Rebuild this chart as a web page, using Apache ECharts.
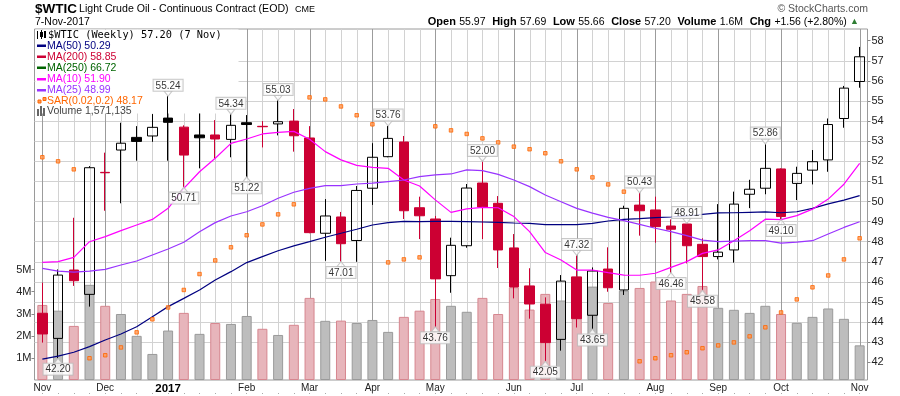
<!DOCTYPE html>
<html><head><meta charset="utf-8">
<script src="https://cdn.jsdelivr.net/npm/echarts@6/dist/echarts.min.js"></script>
<style>html,body{margin:0;padding:0;background:#fff}#c{width:900px;height:396px}</style>
</head><body><div id="c"></div>
<script>
// ---- data (weekly bars, dated Monday) ----
const dates = ['2016-11-07','2016-11-14','2016-11-21','2016-11-28','2016-12-05','2016-12-12','2016-12-19','2016-12-26',
'2017-01-02','2017-01-09','2017-01-16','2017-01-23','2017-01-30','2017-02-06','2017-02-13','2017-02-20','2017-02-27',
'2017-03-06','2017-03-13','2017-03-20','2017-03-27','2017-04-03','2017-04-10','2017-04-17','2017-04-24',
'2017-05-01','2017-05-08','2017-05-15','2017-05-22','2017-05-29','2017-06-05','2017-06-12','2017-06-19','2017-06-26',
'2017-07-03','2017-07-10','2017-07-17','2017-07-24','2017-07-31','2017-08-07','2017-08-14','2017-08-21','2017-08-28',
'2017-09-04','2017-09-11','2017-09-18','2017-09-25','2017-10-02','2017-10-09','2017-10-16','2017-10-23','2017-10-30','2017-11-06'];
const opens  = [44.44,43.19,46.59,45.38,51.45,52.56,53.19,53.26,54.15,53.70,53.31,53.31,53.09,53.92,53.74,53.86,54.00,53.16,48.42,49.23,48.06,50.66,52.23,52.96,49.69,49.13,46.31,47.80,50.92,49.91,47.69,45.80,44.89,43.14,46.25,44.34,46.64,45.60,49.82,49.58,48.78,48.88,47.87,47.26,47.59,50.36,50.66,51.62,50.90,51.56,52.07,54.13,55.97];
const highs  = [45.96,46.62,49.19,51.76,52.43,53.92,53.75,54.35,55.24,53.79,54.38,54.05,54.34,54.30,54.00,55.03,54.60,53.75,50.12,49.48,50.77,52.90,53.76,53.26,50.24,49.28,48.20,50.87,52.00,50.27,48.38,46.68,45.23,46.34,47.32,46.72,47.72,49.79,50.43,50.24,49.11,48.91,48.17,49.87,50.49,51.08,52.86,51.65,51.73,52.56,54.13,55.75,57.69];
const lows   = [42.98,42.20,45.80,44.77,49.54,49.91,52.03,52.97,52.03,50.71,51.65,52.14,52.20,51.22,52.69,53.29,52.48,48.42,47.05,47.01,47.00,49.83,52.20,49.13,48.13,43.76,45.46,47.70,48.13,46.69,45.18,44.17,42.05,42.58,43.73,43.65,45.51,45.35,48.30,47.95,46.46,46.92,45.58,47.12,46.96,49.67,50.36,49.10,50.07,50.85,51.48,53.67,55.66];
const closes = [43.41,46.34,46.06,51.68,51.43,52.90,52.99,53.69,53.94,52.31,53.17,53.11,53.79,53.83,53.72,53.97,53.27,48.45,49.28,47.90,50.55,52.20,53.14,49.54,49.29,46.15,47.82,50.67,49.73,47.59,45.75,44.90,42.98,46.04,44.17,46.54,45.71,49.66,49.54,48.75,48.62,47.80,47.26,47.48,49.87,50.61,51.65,49.25,51.40,51.98,53.83,55.64,57.20];
const prevClose0 = 44.66;
const volumesM = [3.40,3.14,2.45,4.31,3.36,2.99,2.00,1.18,2.24,3.04,2.09,2.58,2.54,2.90,2.32,2.04,2.50,3.72,2.68,2.69,2.58,2.72,2.18,2.86,3.14,3.67,3.36,3.09,3.72,2.99,4.20,3.19,3.90,3.60,3.60,4.23,3.49,4.05,4.17,4.46,3.60,3.90,4.26,3.27,3.18,3.04,3.36,2.99,2.59,2.86,3.24,2.77,1.57];
const ma50 = [42.16,42.31,42.50,42.78,43.11,43.41,43.77,44.27,44.77,45.18,45.60,46.09,46.51,46.96,47.26,47.55,47.79,48.00,48.22,48.42,48.62,48.83,48.95,49.01,49.00,49.01,49.01,49.00,48.98,48.96,48.93,48.91,48.85,48.85,48.85,48.91,49.03,49.11,49.15,49.20,49.23,49.28,49.36,49.43,49.44,49.46,49.48,49.44,49.49,49.66,49.88,50.07,50.29];
const ma10 = [46.97,47.01,47.22,48.00,48.25,48.55,48.83,49.11,49.66,50.65,51.48,52.15,52.89,53.11,53.36,53.44,53.49,53.10,52.48,52.07,51.80,51.70,51.65,51.07,50.77,50.08,49.46,49.63,49.71,49.69,49.25,48.50,47.46,47.09,46.59,46.59,46.46,46.34,46.33,46.43,46.72,47.01,47.42,47.59,48.05,48.55,49.12,49.10,49.30,49.62,50.12,50.86,51.90];
const ma25 = [46.67,46.54,46.49,46.54,46.62,46.84,47.04,47.34,47.64,47.97,48.50,48.95,49.28,49.49,49.79,50.16,50.46,50.65,50.79,50.79,50.87,50.91,50.99,51.07,51.24,51.32,51.37,51.57,51.54,51.35,51.07,50.74,50.32,49.99,49.66,49.42,49.21,49.05,48.86,48.67,48.50,48.30,48.08,48.00,48.03,48.05,48.05,47.93,47.98,48.05,48.38,48.71,48.99];
const sar  = [52.20,52.00,51.60,42.20,42.35,42.74,43.49,44.14,44.73,45.60,46.39,47.07,47.72,48.32,48.86,49.36,49.86,55.18,55.08,54.73,54.29,53.84,46.97,47.12,47.22,53.74,53.54,53.36,53.14,52.94,52.73,52.60,52.40,52.00,51.60,51.20,50.85,50.49,42.05,42.20,42.35,42.50,42.70,42.84,42.99,43.29,43.74,44.48,45.13,45.73,46.32,47.12,48.17];
const monthTickIdx = [0,4,8,13,17,21,25,30,34,39,43,47,52];
const monthTickLabels = ['Nov','Dec','2017','Feb','Mar','Apr','May','Jun','Jul','Aug','Sep','Oct','Nov'];
const priceTicks = [42,43,44,45,46,47,48,49,50,51,52,53,54,55,56,57,58];
const volTicks = [1,2,3,4,5];
const highLabelIdx = [8,12,15,22,28,34,38,41,46];
const lowLabelIdx = [1,9,13,19,25,32,35,40,42,47];
const lastVolume = 1571135;
const ma200Last = 58.85, ma250Last = 66.72;

// ---- styles ----
const RED = '#cc0033', BLK = '#000000';
const F = '"Liberation Sans", Arial, sans-serif';
const isRed = dates.map((d,i)=> closes[i] < (i===0 ? prevClose0 : closes[i-1]));
const candleData = dates.map((d,i)=>{
  const c = isRed[i] ? RED : BLK;
  const fill = closes[i] < opens[i] ? c : 'rgba(0,0,0,0)';
  return {value:[opens[i], closes[i], lows[i], highs[i]],
    itemStyle:{color:fill, color0:fill, borderColor:c, borderColor0:c, borderColorDoji:c}};
});
const volData = volumesM.map((v,i)=>({value:v, itemStyle: isRed[i]
  ? {color:'#e7b5bb', borderColor:'#d6868f', borderWidth:1}
  : {color:'#bdbdbd', borderColor:'#9a9a9a', borderWidth:1}}));

const last = dates.length-1;
const chg = closes[last]-closes[last-1];
const chgPct = chg/closes[last-1]*100;
const fmtVol = (lastVolume/1e6).toFixed(1)+'M';

const GL = 34.5, GW = 833;
const chart = echarts.init(document.getElementById('c'), null, {renderer:'canvas'});

const legendRows = [
  {y:46,  c:'#000080', t:'MA(50) '+ma50[last].toFixed(2)},
  {y:57,  c:'#cc0033', t:'MA(200) '+ma200Last.toFixed(2)},
  {y:68,  c:'#006400', t:'MA(250) '+ma250Last.toFixed(2)},
  {y:79.5,c:'#ff00ff', t:'MA(10) '+ma10[last].toFixed(2)},
  {y:90.5,c:'#9933ff', t:'MA(25) '+ma25[last].toFixed(2)}
];
const graphics = [
  {type:'rect', shape:{x:35.5, y:29.5, width:203, height:84}, style:{fill:'#fff'}, z:2, silent:true},
  {type:'text', x:35, y:9, style:{text:'$WTIC', font:'bold 13.5px '+F, fill:'#000', verticalAlign:'middle'}, z:10},
  {type:'text', x:79, y:9.5, style:{text:'Light Crude Oil - Continuous Contract (EOD)', font:'10.6px '+F, fill:'#000', verticalAlign:'middle'}, z:10},
  {type:'text', x:295, y:10, style:{text:'CME', font:'9px '+F, fill:'#000', verticalAlign:'middle'}, z:10},
  {type:'text', x:35, y:22, style:{text:'7-Nov-2017', font:'10.5px '+F, fill:'#000', verticalAlign:'middle'}, z:10},
  {type:'text', x:868, y:9, style:{text:'\u00A9 StockCharts.com', font:'10.5px '+F, fill:'#555', align:'right', verticalAlign:'middle'}, z:10},
  {type:'text', x:859, y:22, style:{
    text:'{b|Open} {n|'+opens[last].toFixed(2)+'}  {b|High} {n|'+highs[last].toFixed(2)+'}  {b|Low} {n|'+lows[last].toFixed(2)+
         '}  {b|Close} {n|'+closes[last].toFixed(2)+'}  {b|Volume} {n|'+fmtVol+'}  {b|Chg} {n|'+(chg>=0?'+':'')+chg.toFixed(2)+' ('+(chg>=0?'+':'')+chgPct.toFixed(2)+'%)} {g|\u25B2}',
    rich:{b:{font:'bold 11px '+F, fill:'#000'}, n:{font:'10.5px '+F, fill:'#000'}, g:{font:'9px '+F, fill:'#2e7d32'}},
    align:'right', verticalAlign:'middle'}, z:10},
  // legend rows
  {type:'rect', shape:{x:37, y:31, width:1, height:8}, style:{fill:'#000'}, z:10},
  {type:'rect', shape:{x:40, y:32, width:3, height:5}, style:{fill:'#000'}, z:10},
  {type:'rect', shape:{x:41, y:30, width:1, height:9}, style:{fill:'#000'}, z:10},
  {type:'rect', shape:{x:44, y:31, width:2, height:7}, style:{fill:'#000'}, z:10},
  {type:'text', x:48, y:35.5, style:{text:'$WTIC (Weekly) '+closes[last].toFixed(2)+' (7 Nov)', font:'10.3px "DejaVu Sans Mono", monospace', fill:'#000', verticalAlign:'middle'}, z:10},
  {type:'rect', shape:{x:38, y:100, width:3, height:3}, style:{fill:'#ff9955', stroke:'#ff6600', lineWidth:1}, z:10},
  {type:'rect', shape:{x:43, y:97.5, width:3, height:3}, style:{fill:'#ff9955', stroke:'#ff6600', lineWidth:1}, z:10},
  {type:'text', x:47, y:101, style:{text:'SAR(0.02,0.2) '+sar[last].toFixed(2), font:'10.5px '+F, fill:'#ff6600', verticalAlign:'middle'}, z:10},
  {type:'rect', shape:{x:37, y:109, width:2, height:7}, style:{fill:'#666'}, z:10},
  {type:'rect', shape:{x:40, y:106, width:2, height:10}, style:{fill:'#666'}, z:10},
  {type:'rect', shape:{x:43, y:108, width:2, height:8}, style:{fill:'#666'}, z:10},
  {type:'text', x:47, y:111.5, style:{text:'Volume '+lastVolume.toLocaleString('en-US'), font:'10.5px '+F, fill:'#444', verticalAlign:'middle'}, z:10}
];
legendRows.forEach(r=>{
  graphics.push({type:'rect', shape:{x:37, y:r.y-1.5, width:9, height:2.5}, style:{fill:r.c}, z:10});
  graphics.push({type:'text', x:47, y:r.y, style:{text:r.t, font:'10.5px '+F, fill:r.c, verticalAlign:'middle'}, z:10});
});

const calloutLabel = {show:true, fontSize:10, fontFamily:F, color:'#000', backgroundColor:'#fff', borderColor:'#bbb', borderWidth:1, padding:[1,2,0,2], distance:0,
  formatter:p=>p.value[1].toFixed(2)};

chart.setOption({
  animation:false,
  backgroundColor:'#fff',
  graphic:{elements:graphics},
  grid:[
    {left:GL, width:GW, top:20.6, height:361.8, show:false},
    {left:GL, width:GW, top:29, height:351, show:true, borderColor:'#9a9a9a', borderWidth:1, backgroundColor:'rgba(0,0,0,0)'}
  ],
  xAxis:[
    {type:'category', gridIndex:0, data:dates, show:false, boundaryGap:true},
    {type:'category', gridIndex:1, data:dates, boundaryGap:true,
      axisLine:{show:false}, axisTick:{show:false}, splitLine:{show:false},
      axisLabel:{interval:(i)=>monthTickIdx.includes(i), margin:3, fontSize:10, fontFamily:F, color:'#222',
        formatter:(v,i)=>{const k=monthTickIdx.indexOf(i); const t=monthTickLabels[k]; return /^\d+$/.test(t)?'{y|'+t+'}':t;},
        rich:{y:{fontWeight:'bold', fontSize:11.5, fontFamily:F, color:'#000'}}}},
    {type:'category', gridIndex:1, data:dates, boundaryGap:true, position:'bottom', offset:13,
      axisLine:{show:false}, axisLabel:{show:false}, splitLine:{show:false},
      axisTick:{show:true, interval:0, alignWithLabel:true, length:1, lineStyle:{color:'#aaa'}}}
  ],
  yAxis:[
    {type:'value', gridIndex:0, position:'right', min:41, max:59, interval:1,
      axisLine:{show:false},
      axisTick:{show:true, length:3, lineStyle:{color:'#888'}, customValues:priceTicks},
      axisLabel:{customValues:priceTicks, fontSize:11, fontFamily:F, color:'#222', margin:4},
      splitLine:{show:true, showMinLine:false, showMaxLine:false, lineStyle:{color:'#d2d2d2', width:1}}},
    {type:'value', gridIndex:1, position:'left', min:0, max:15.9,
      axisLine:{show:false}, splitLine:{show:false},
      axisTick:{show:true, length:3, lineStyle:{color:'#888'}, customValues:volTicks},
      axisLabel:{customValues:volTicks, formatter:v=>v+'M', fontSize:11, fontFamily:F, color:'#222', margin:3}}
  ],
  series:[
    {type:'custom', name:'weeklines', xAxisIndex:1, yAxisIndex:1, z:1, silent:true,
      data:dates.map((d,i)=>[i, monthTickIdx.includes(i)?1:0]),
      renderItem:(params, api)=>{
        const x = Math.round(api.coord([api.value(0), 0])[0]) + 0.5;
        const cs = params.coordSys;
        return {type:'line', shape:{x1:x, y1:cs.y, x2:x, y2:cs.y+cs.height},
          style:{stroke: api.value(1) ? '#9c9c9c' : '#d2d2d2', lineWidth:1}};
      }},
    {type:'bar', name:'Volume', xAxisIndex:1, yAxisIndex:1, data:volData, barWidth:10, z:3, silent:true},
    {type:'candlestick', name:'$WTIC', xAxisIndex:0, yAxisIndex:0, data:candleData, barWidth:10, z:4, silent:true,
      itemStyle:{borderWidth:1}},
    {type:'line', name:'MA(50)', xAxisIndex:0, yAxisIndex:0, data:ma50, showSymbol:false, z:5, silent:true, lineStyle:{color:'#000080', width:1.2}},
    {type:'line', name:'MA(10)', xAxisIndex:0, yAxisIndex:0, data:ma10, showSymbol:false, z:5, silent:true, lineStyle:{color:'#ff00ff', width:1.2}},
    {type:'line', name:'MA(25)', xAxisIndex:0, yAxisIndex:0, data:ma25, showSymbol:false, z:5, silent:true, lineStyle:{color:'#9933ff', width:1.2}},
    {type:'scatter', name:'SAR', xAxisIndex:0, yAxisIndex:0, data:sar, symbol:'rect', symbolSize:3.5, z:6, silent:true,
      itemStyle:{color:'#ff9955', borderColor:'#ff6600', borderWidth:1}},
    {type:'scatter', name:'highs', xAxisIndex:0, yAxisIndex:0, data:highLabelIdx.map(i=>[i, highs[i]]), z:7, silent:true,
      symbol:'path://M0,0 L10,0 L5,6 Z', symbolSize:[8,5], symbolOffset:[0,-2.5], itemStyle:{color:'#fff', borderColor:'#bbb', borderWidth:1},
      label:Object.assign({position:'top'}, calloutLabel)},
    {type:'scatter', name:'lows', xAxisIndex:0, yAxisIndex:0, data:lowLabelIdx.map(i=>[i, lows[i]]), z:7, silent:true,
      symbol:'path://M5,0 L10,6 L0,6 Z', symbolSize:[8,5], symbolOffset:[0,2.5], itemStyle:{color:'#fff', borderColor:'#bbb', borderWidth:1},
      label:Object.assign({position:'bottom'}, calloutLabel)}
  ]
});
</script></body></html>
